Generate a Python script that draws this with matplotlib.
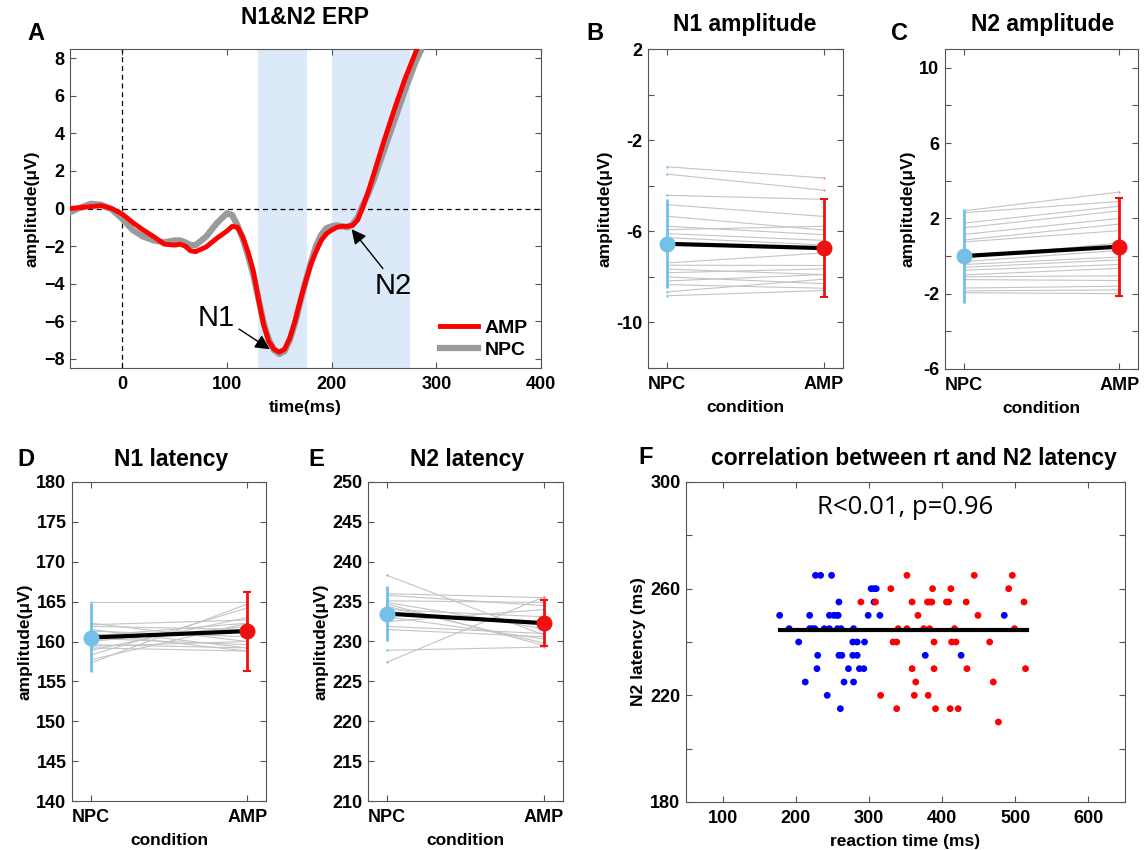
import matplotlib
matplotlib.use('Agg')
import matplotlib.pyplot as plt
from matplotlib.ticker import FixedLocator, FuncFormatter

plt.rcParams['font.family'] = ['Liberation Sans', 'DejaVu Sans']
plt.rcParams['font.weight'] = 'bold'
plt.rcParams['axes.labelweight'] = 'bold'
plt.rcParams['xtick.direction'] = 'in'
plt.rcParams['ytick.direction'] = 'in'
plt.rcParams['xtick.top'] = True
plt.rcParams['ytick.right'] = True
plt.rcParams['xtick.major.size'] = 4
plt.rcParams['ytick.major.size'] = 4
plt.rcParams['xtick.color'] = '#555555'
plt.rcParams['ytick.color'] = '#555555'
plt.rcParams['xtick.labelcolor'] = 'black'
plt.rcParams['ytick.labelcolor'] = 'black'
plt.rcParams['axes.edgecolor'] = '#555555'

# ---------------- data ----------------
# Panel A: grand-average ERP
erp_time = [-50, -40, -30, -20, -10, 0, 10, 20, 30, 40, 50, 55, 60, 65, 70, 80, 90, 100, 105,
            110, 115, 120, 125, 130, 135, 140, 145, 150, 155, 160, 165, 170, 175, 180, 185, 190,
            195, 200, 205, 210, 215, 220, 225, 230, 235, 240, 250, 260, 270, 280, 290]
erp_amp = [0.0, 0.05, 0.1, 0.15, 0.0, -0.3, -0.75, -1.15, -1.5, -1.9, -1.95, -1.9, -2.0, -2.25,
           -2.3, -2.05, -1.6, -1.2, -0.95, -1.0, -1.5, -2.3, -3.3, -4.8, -6.2, -7.1, -7.5, -7.65,
           -7.5, -6.9, -6.0, -4.9, -3.9, -3.0, -2.3, -1.7, -1.35, -1.15, -1.0, -0.95, -0.95, -0.9,
           -0.6, 0.1, 0.9, 1.8, 3.6, 5.3, 6.9, 8.3, 9.6]
erp_npc = [-0.2, 0.05, 0.25, 0.2, -0.05, -0.55, -1.15, -1.5, -1.7, -1.8, -1.7, -1.7, -1.8, -1.95,
           -1.95, -1.5, -0.8, -0.25, -0.35, -0.9, -1.6, -2.5, -3.5, -4.8, -6.1, -7.0, -7.55,
           -7.75, -7.6, -7.0, -6.1, -5.0, -3.9, -2.9, -2.0, -1.4, -1.05, -0.95, -0.9, -0.95,
           -1.0, -0.85, -0.45, 0.2, 0.8, 1.5, 3.1, 4.7, 6.3, 7.8, 9.0]
n1_window = (130, 176)
n2_window = (200, 275)

conditions = ['NPC', 'AMP']

# Panel B: N1 amplitude per subject
n1amp_npc = [-3.17, -3.49, -4.42, -4.83, -5.34, -5.78, -5.93, -6.10, -6.28, -7.39, -7.49, -7.66,
             -7.82, -8.0, -8.18, -8.34, -8.66, -8.83]
n1amp_amp = [-3.66, -4.2, -4.6, -5.35, -5.95, -6.15, -5.78, -6.4, -6.6, -6.95, -7.5, -7.9,
             -7.65, -8.3, -7.9, -8.5, -8.1, -8.6]
n1amp_mean = [-6.55, -6.74]
n1amp_sd = [1.95, 2.14]

# Panel C: N2 amplitude per subject
n2amp_npc = [2.4, 2.3, 1.75, 1.5, 1.15, 0.85, 0.75, -0.1, -0.3, -0.45, -0.6, -0.75, -1.0, -1.1,
             -1.25, -1.7, -1.85, -1.95]
n2amp_amp = [3.4, 2.9, 2.65, 2.4, 2.0, 1.7, 1.35, 0.7, 0.3, -0.05, -0.2, -0.45, -0.65, -1.05,
             -1.3, -1.6, -1.8, -2.0]
n2amp_mean = [0.0, 0.5]
n2amp_sd = [2.49, 2.6]

# Panel D: N1 latency per subject
n1lat_npc = [164.9, 162.3, 162.1, 161.9, 161.5, 161.3, 161.0, 160.7, 160.4, 160.0, 159.6, 159.4,
             158.9, 158.3, 157.7, 157.3, 159.2]
n1lat_amp = [164.9, 160.0, 162.7, 161.5, 159.2, 160.6, 158.8, 162.3, 159.6, 161.9, 159.2, 160.0,
             163.0, 164.2, 162.3, 164.7, 158.8]
n1lat_mean = [160.5, 161.3]
n1lat_sd = [4.35, 4.95]

# Panel E: N2 latency per subject
n2lat_npc = [238.3, 236.0, 235.8, 235.1, 234.9, 234.4, 234.0, 233.1, 232.5, 231.9, 231.5, 228.9,
             227.4, 234.7, 233.6]
n2lat_amp = [230.8, 235.5, 234.5, 234.9, 231.6, 229.8, 233.1, 230.3, 234.0, 231.0, 230.6, 229.3,
             235.6, 229.5, 232.1]
n2lat_mean = [233.5, 232.3]
n2lat_sd = [3.45, 2.9]

# Panel F: reaction time vs N2 latency
rt_blue = [227, 234, 249, 303, 307, 310, 259, 307, 178, 219, 246, 252, 256, 258, 299, 315, 485,
           191, 219, 223, 226, 239, 246, 257, 262, 279, 204, 278, 284, 294, 230, 259, 263, 278,
           284, 377, 426, 229, 272, 287, 293, 213, 266, 279, 243, 261]
lat_blue = [265, 265, 265, 260, 260, 260, 255, 255, 250, 250, 250, 250, 250, 250, 250, 250, 250,
            245, 245, 245, 245, 245, 245, 245, 245, 245, 240, 240, 240, 240, 235, 235, 235, 235,
            235, 235, 235, 230, 230, 230, 230, 225, 225, 225, 220, 215]
rt_red = [352, 444, 496, 330, 387, 412, 491, 289, 309, 359, 380, 383, 386, 406, 409, 433, 512,
          367, 449, 340, 352, 375, 383, 417, 499, 333, 338, 389, 413, 419, 465, 359, 389, 434,
          514, 364, 470, 316, 362, 381, 338, 391, 411, 422, 477]
lat_red = [265, 265, 265, 260, 260, 260, 260, 255, 255, 255, 255, 255, 255, 255, 255, 255, 255,
           250, 250, 245, 245, 245, 245, 245, 245, 240, 240, 240, 240, 240, 240, 230, 230, 230,
           230, 225, 225, 220, 220, 220, 215, 215, 215, 215, 210]
fit_rt = [178, 516]
fit_lat = [244.5, 244.5]
stat_text = 'R<0.01, p=0.96'

# ---------------- figure ----------------
W, H = 1145, 850
fig = plt.figure(figsize=(W / 100, H / 100), dpi=100)

TICK_FS = 13
LABEL_FS = 12.5
TITLE_FS = 16.5
LETTER_FS = 17


def px_axes(l, t, r, b):
    return fig.add_axes([l / W, 1 - b / H, (r - l) / W, (b - t) / H])


def fig_text(x, y, s, **kw):
    fig.text(x / W, 1 - y / H, s, ha='center', va='center', **kw)


def bold_ticks(ax):
    ax.tick_params(labelsize=TICK_FS)
    ax.tick_params(axis='x', pad=6)
    ax.tick_params(axis='y', pad=4)
    for lab in ax.get_xticklabels() + ax.get_yticklabels():
        lab.set_fontweight('bold')


LIGHTBLUE = '#74c0e8'
RED = '#f01010'

# Panel A
axA = px_axes(70, 49, 541, 368)
axA.axvspan(*n1_window, color='#dce9f8', lw=0)
axA.axvspan(*n2_window, color='#dce9f8', lw=0)
axA.axhline(0, color='k', lw=0.9, ls=(0, (4, 3)))
axA.axvline(0, color='k', lw=0.9, ls=(0, (4, 3)))
axA.plot(erp_time, erp_npc, color='#9a9a9a', lw=4.5, label='NPC', zorder=3)
axA.plot(erp_time, erp_amp, color='#ff0000', lw=3.5, label='AMP', zorder=4)
axA.set_xlim(-50, 400)
axA.set_ylim(-8.5, 8.5)
axA.xaxis.set_major_locator(FixedLocator([0, 100, 200, 300, 400]))
axA.yaxis.set_major_locator(FixedLocator(list(range(-8, 9, 2))))
bold_ticks(axA)
axA.set_xlabel('time(ms)', fontsize=LABEL_FS, labelpad=5)
axA.set_ylabel('amplitude(\u03bcV)', fontsize=LABEL_FS, labelpad=3)
handles, labels = axA.get_legend_handles_labels()
leg = axA.legend(handles[::-1], labels[::-1], loc='lower right', frameon=False, fontsize=14,
                 handlelength=2.0, borderaxespad=0.3, labelspacing=0.25, handletextpad=0.3,
                 bbox_to_anchor=(1.0, -0.015))
for txt in leg.get_texts():
    txt.set_fontweight('bold')
axA.annotate('N1', xy=(141, -7.5), xytext=(90, -5.85), fontsize=21, fontweight='normal',
             ha='center', va='center',
             arrowprops=dict(arrowstyle='-|>', color='k', lw=1, mutation_scale=22,
                             shrinkA=1, shrinkB=0, relpos=(0.95, 0.25)))
axA.annotate('N2', xy=(219, -1.1), xytext=(259, -4.15), fontsize=21, fontweight='normal',
             ha='center', va='center',
             arrowprops=dict(arrowstyle='-|>', color='k', lw=1, mutation_scale=22,
                             shrinkA=1, shrinkB=0, relpos=(0.3, 1.0)))
fig_text(305, 18, 'N1&N2 ERP', fontsize=TITLE_FS, fontweight='bold')
fig_text(36, 33, 'A', fontsize=LETTER_FS, fontweight='bold')


def paired_panel(box, npc, amp, mean, sd, ylim, ticks, labeled, title, letter, title_xy,
                 letter_xy):
    ax = px_axes(*box)
    for a, b in zip(npc, amp):
        ax.plot([1, 2], [a, b], color='#c4c4c4', lw=0.8, zorder=1)
    ax.plot([1] * len(npc), npc, 'o', ms=1.6, color=LIGHTBLUE, mec='none', zorder=2)
    ax.plot([2] * len(amp), amp, 'o', ms=1.6, color='#f08c8c', mec='none', zorder=2)
    ax.errorbar([1], [mean[0]], yerr=[sd[0]], fmt='none', ecolor=LIGHTBLUE, elinewidth=2,
                capsize=0, zorder=3)
    ax.errorbar([2], [mean[1]], yerr=[sd[1]], fmt='none', ecolor=RED, elinewidth=2,
                capsize=3, capthick=1.5, zorder=3)
    ax.plot([1, 2], mean, color='k', lw=3, zorder=4)
    ax.plot([1], [mean[0]], 'o', ms=11.5, color=LIGHTBLUE, mec='none', zorder=5)
    ax.plot([2], [mean[1]], 'o', ms=11.5, color=RED, mec='none', zorder=5)
    ax.set_xlim(0.88, 2.12)
    ax.xaxis.set_major_locator(FixedLocator([1, 2]))
    ax.set_xticklabels(conditions)
    ax.set_ylim(*ylim)
    ax.yaxis.set_major_locator(FixedLocator(ticks))
    ax.yaxis.set_major_formatter(
        FuncFormatter(lambda v, p: ('%g' % v) if any(abs(v - l) < 1e-6 for l in labeled) else ''))
    bold_ticks(ax)
    ax.set_xlabel('condition', fontsize=LABEL_FS, labelpad=5)
    ax.set_ylabel('amplitude(\u03bcV)', fontsize=LABEL_FS, labelpad=3)
    fig_text(title_xy[0], title_xy[1], title, fontsize=TITLE_FS, fontweight='bold')
    fig_text(letter_xy[0], letter_xy[1], letter, fontsize=LETTER_FS, fontweight='bold')
    return ax


paired_panel((648, 49, 843, 368), n1amp_npc, n1amp_amp, n1amp_mean, n1amp_sd, (-12, 2),
             list(range(-12, 3, 2)), [2, -2, -6, -10], 'N1 amplitude', 'B', (745, 25),
             (595, 33))
paired_panel((945, 49, 1138, 369), n2amp_npc, n2amp_amp, n2amp_mean, n2amp_sd, (-6, 11),
             list(range(-6, 11, 2)), [10, 6, 2, -2, -6], 'N2 amplitude', 'C', (1043, 25),
             (899, 33))
paired_panel((72, 482, 266, 801), n1lat_npc, n1lat_amp, n1lat_mean, n1lat_sd, (140, 180),
             list(range(140, 181, 5)), list(range(140, 181, 5)), 'N1 latency', 'D',
             (171, 459), (26, 460))
paired_panel((368, 482, 563, 801), n2lat_npc, n2lat_amp, n2lat_mean, n2lat_sd, (210, 250),
             list(range(210, 251, 5)), list(range(210, 251, 5)), 'N2 latency', 'E',
             (467, 459), (316, 460))

# Panel F
axF = px_axes(686, 482, 1125, 802)
axF.scatter(rt_blue, lat_blue, s=24, color='#0000ff', edgecolors='none', zorder=2)
axF.scatter(rt_red, lat_red, s=24, color='#ff0000', edgecolors='none', zorder=2)
axF.plot(fit_rt, fit_lat, color='k', lw=3, zorder=3)
axF.set_xlim(50, 650)
axF.set_ylim(180, 300)
axF.xaxis.set_major_locator(FixedLocator([100, 200, 300, 400, 500, 600]))
axF.yaxis.set_major_locator(FixedLocator(list(range(180, 301, 20))))
axF.yaxis.set_major_formatter(
    FuncFormatter(lambda v, p: ('%d' % v) if int(round(v)) in (180, 220, 260, 300) else ''))
bold_ticks(axF)
axF.set_xlabel('reaction time (ms)', fontsize=LABEL_FS, labelpad=5)
axF.set_ylabel('N2 latency (ms)', fontsize=LABEL_FS, labelpad=3)
axF.text(350, 290.5, stat_text, ha='center', va='center', fontsize=18.5, fontweight='normal',
         family=['Open Sans', 'DejaVu Sans'])
fig_text(914, 458, 'correlation between rt and N2 latency', fontsize=TITLE_FS,
         fontweight='bold')
fig_text(646, 458, 'F', fontsize=LETTER_FS, fontweight='bold')

fig.savefig('out.png', dpi=100)
